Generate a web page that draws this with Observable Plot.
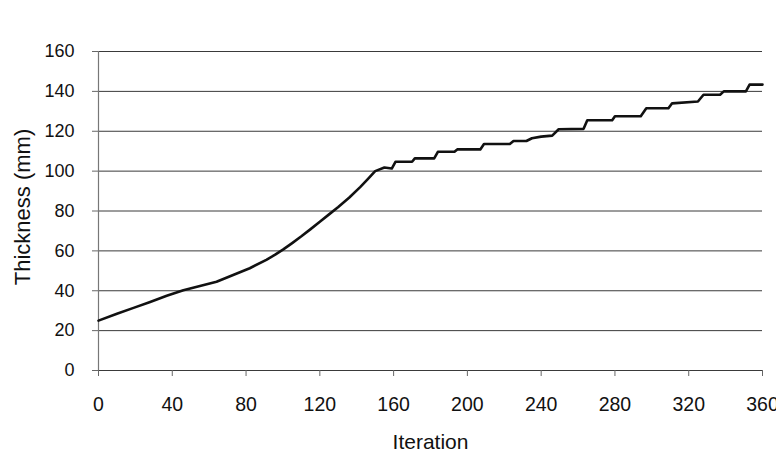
<!DOCTYPE html>
<html>
<head>
<meta charset="utf-8">
<script src="https://cdn.jsdelivr.net/npm/d3@7"></script>
<script src="https://cdn.jsdelivr.net/npm/@observablehq/plot@0.6"></script>
<style>
  html, body { margin: 0; padding: 0; background: #fff; }
  #chart { width: 776px; height: 464px; overflow: hidden; }
</style>
</head>
<body>
<div id="chart"></div>
<script>
// Data
const iteration = [0, 10, 19, 28, 37, 46, 55, 64, 73, 82, 91, 96, 100, 105, 110, 115, 120, 125, 130, 136, 142, 146, 150, 155, 159,
  161, 170, 171.5, 182, 184, 193, 194.5, 207, 209, 223, 225, 232, 235, 240, 246, 249.5, 263, 265, 278.5,
  280, 294, 297, 309, 311, 325, 328, 337, 339, 351, 353, 360];
const thickness = [25, 28.5, 31.4, 34.4, 37.5, 40.3, 42.4, 44.5, 47.9, 51.3, 55.5, 58.2, 60.6, 63.9, 67.3, 70.9, 74.6, 78.3, 82, 86.8, 92.1, 96, 100, 101.8, 101.3,
  104.7, 104.7, 106.4, 106.4, 109.7, 109.7, 110.9, 110.9, 113.6, 113.6, 115.1, 115.1, 116.5, 117.3, 117.8, 121, 121.2, 125.5, 125.5,
  127.5, 127.5, 131.5, 131.5, 134, 134.9, 138.3, 138.3, 140, 140, 143.4, 143.4];
const yTicks = [0, 20, 40, 60, 80, 100, 120, 140, 160];
const xTicks = [0, 40, 80, 120, 160, 200, 240, 280, 320, 360];
const xTitle = "Iteration";
const yTitle = "Thickness (mm)";

const data = iteration.map((x, i) => ({x, y: thickness[i]}));
const font = "'Liberation Sans', Arial, Helvetica, sans-serif";

const chart = Plot.plot({
  width: 776,
  height: 464,
  marginLeft: 98,
  marginRight: 14,
  marginTop: 51,
  marginBottom: 94,
  style: {fontFamily: font, background: "#fff", color: "#111"},
  x: {domain: [0, 360]},
  y: {domain: [0, 160]},
  marks: [
    Plot.gridY(yTicks, {stroke: "#3a3a3a", strokeOpacity: 1, strokeWidth: 1}),
    Plot.ruleX([0], {stroke: "#777", strokeWidth: 1.2}),
    Plot.axisY(yTicks, {tickSize: 6, tickPadding: 18, fontSize: 18, stroke: "#666", label: null}),
    Plot.axisX(xTicks, {tickSize: 6, tickPadding: 21, fontSize: 19.5, stroke: "#666", label: null}),
    Plot.line(data, {x: "x", y: "y", stroke: "#111", strokeWidth: 2.6, strokeLinejoin: "round"}),
    Plot.text([xTitle], {frameAnchor: "bottom", dy: 72, lineAnchor: "middle", textAnchor: "middle", fontSize: 21, fill: "#111", text: d => d}),
    Plot.text([yTitle], {frameAnchor: "left", dx: -76, dy: -4, rotate: -90, textAnchor: "middle", lineAnchor: "middle", fontSize: 22, fill: "#111", text: d => d})
  ]
});
document.getElementById("chart").appendChild(chart);
</script>
</body>
</html>
